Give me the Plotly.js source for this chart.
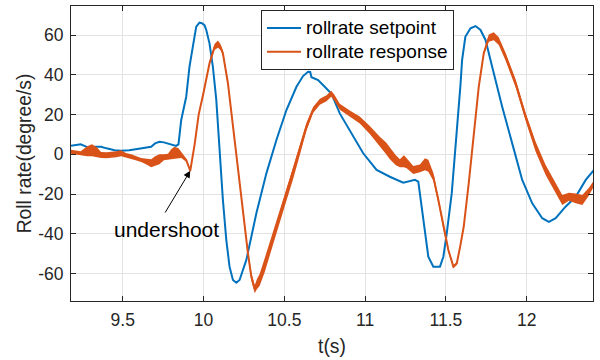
<!DOCTYPE html>
<html>
<head>
<meta charset="utf-8">
<script src="https://cdn.plot.ly/plotly-3.0.1.min.js"></script>
<style>html,body{margin:0;padding:0;background:#fff;}#chart{width:600px;height:360px;}</style>
</head>
<body>
<div id="chart"></div>
<script>
// ---- data ----
const tSet = [9.18,9.20,9.24,9.27,9.30,9.33,9.366,9.40,9.45,9.49,9.54,9.59,9.64,9.676,9.70,9.727,9.755,9.78,9.83,9.845,9.852,9.862,9.893,9.913,9.934,9.955,9.975,9.99,10.006,10.017,10.037,10.058,10.079,10.099,10.12,10.141,10.161,10.182,10.203,10.223,10.265,10.327,10.389,10.451,10.513,10.575,10.616,10.647,10.66,10.668,10.709,10.75,10.792,10.843,10.926,10.988,11.071,11.153,11.236,11.308,11.329,11.35,11.37,11.391,11.422,11.463,11.484,11.505,11.536,11.567,11.59,11.60,11.62,11.652,11.683,11.714,11.745,11.786,11.848,11.91,11.972,12.034,12.096,12.137,12.179,12.24,12.303,12.365,12.416];
const setpoint = [4.3,4.5,5.0,4.0,3.0,3.8,3.8,3.0,2.0,1.8,2.0,2.7,3.2,3.8,5.5,6.3,6.0,5.5,4.2,5.0,10,17.3,29,44,54.2,64.3,66.3,66.0,65.1,62.6,55.9,44.1,27.4,2.2,-23,-43.2,-56.6,-63.3,-64.7,-63.3,-53.2,-29.7,-9.6,7.2,22.3,34,39.4,41.6,41.5,38.8,37.4,34,30.5,20.6,8.9,0.5,-7.9,-11.3,-14.3,-12.9,-13.8,-26.4,-39.8,-51.6,-56.6,-56.6,-51.6,-39.8,-19.6,10.6,35,47.5,59.2,63.5,64.6,62.6,57.6,44.1,24,5.5,-12.9,-24.7,-32.2,-34,-32.2,-26.4,-21.4,-12.9,-7.9];

const tResp = [9.18,9.24,9.28,9.31,9.34,9.366,9.40,9.428,9.46,9.49,9.52,9.552,9.58,9.614,9.65,9.676,9.70,9.727,9.755,9.78,9.80,9.82,9.845,9.862,9.893,9.918,9.945,9.97,10.0,10.037,10.068,10.089,10.105,10.12,10.151,10.182,10.213,10.244,10.275,10.296,10.317,10.33,10.347,10.378,10.41,10.451,10.503,10.554,10.596,10.637,10.678,10.72,10.761,10.79,10.81,10.843,10.905,10.967,11.029,11.091,11.13,11.153,11.19,11.215,11.24,11.257,11.298,11.339,11.37,11.391,11.422,11.453,11.484,11.515,11.546,11.567,11.588,11.61,11.641,11.672,11.703,11.734,11.765,11.796,11.827,11.869,11.931,11.993,12.055,12.117,12.179,12.22,12.261,12.303,12.344,12.385,12.416];
const response = [1.3,0.5,1.5,2.0,1.0,-0.4,-0.5,-0.4,0.0,0.5,-0.5,-1.2,-2.0,-2.9,-3.8,-4.5,-3.5,-2.5,-1.5,-1.2,0,0.8,0.5,-0.4,-2.9,-8.3,5,20,31,45.8,54,55.5,54,50.9,35.8,13.9,-7.9,-29.7,-49.9,-61.7,-68.0,-65.5,-63.3,-56,-47.4,-36.5,-23,-9.6,2.2,13.9,22.3,26.5,28.2,30.5,28.5,24,20.6,17.3,12.2,6.3,3.0,0.5,-3.0,-4.5,-3.5,-4.5,-7.9,-7.1,-5.0,-5.8,-11.3,-23,-36.5,-48.2,-56.6,-55,-46.5,-36.5,-14.6,10.6,34,50.9,58.5,59.5,57,49.2,35.8,18.9,3.8,-7.9,-17.1,-23,-21.4,-22.2,-23,-18.8,-14.6];
// half-width of the high-frequency jitter seen on the response trace (degree/s)
const respJitter = [1.0,1.0,2.5,3.0,2.5,1.5,1.5,1.5,1.5,1.5,1.2,1.2,1.0,1.0,1.5,2.0,2.5,2.5,1.5,1.5,2.5,3.0,2.5,1.5,0.8,0.5,0.5,0.5,0.5,0.8,1.5,1.8,1.5,1.2,1.0,0.8,0.8,1.0,1.5,2.0,2.0,2.5,3.0,3.5,3.5,3.5,3.0,3.0,2.5,2.0,1.5,1.5,1.5,1.5,1.5,1.5,1.5,1.8,2.0,2.5,3.0,3.0,2.5,2.0,3.0,2.5,2.0,2.0,3.0,3.0,2.0,1.5,1.5,1.0,0.8,0.8,0.5,0.5,0.5,0.5,0.8,1.0,1.8,2.0,2.0,2.0,2.0,2.0,2.5,2.5,2.5,2.5,2.0,2.5,2.5,2.0,1.5];

const seriesNames = ['rollrate setpoint','rollrate response'];
const xTickVals = [9.5,10,10.5,11,11.5,12];
const xTickText = ['9.5','10','10.5','11','11.5','12'];
const yTickVals = [-60,-40,-20,0,20,40,60];
const yTickText = ['-60','-40','-20','0','20','40','60'];
const noteText = 'undershoot';
const noteAt = [9.77,-38];        // label centre
const arrowTip = [9.918,-8.3];    // undershoot point
const arrowTail = [9.757,-30.1];

// ---- drawing ----
const BLUE = '#0072BD', ORANGE = '#D95319', INK = '#262626';
const FONT = 'Liberation Sans, Arial, Helvetica, sans-serif';
const legendLabel = s => '<span style="font-size:19px">' + s + '</span>';

const bandX = tResp.concat(tResp.slice().reverse());
const bandY = response.map((v,i)=>v+respJitter[i])
  .concat(response.map((v,i)=>v-respJitter[i]).reverse());

const traces = [
  {x:tSet, y:setpoint, type:'scatter', mode:'lines', name:legendLabel(seriesNames[0]),
   line:{color:BLUE, width:2}},
  {x:tResp, y:response, type:'scatter', mode:'lines', name:legendLabel(seriesNames[1]),
   line:{color:ORANGE, width:2}},
  {x:bandX, y:bandY, type:'scatter', mode:'lines', fill:'toself',
   fillcolor:ORANGE, line:{width:0, color:ORANGE}, showlegend:false, hoverinfo:'skip'}
];

const axisCommon = {
  showline:true, linecolor:INK, linewidth:1, mirror:'ticks',
  ticks:'inside', ticklen:5, tickcolor:INK, tickwidth:1,
  showgrid:true, gridcolor:'#e3e3e3', gridwidth:1, zeroline:false,
  tickfont:{family:FONT, size:17.5, color:INK}
};

const layout = {
  width:600, height:360,
  margin:{l:71, r:7, t:6, b:59},
  paper_bgcolor:'#fff', plot_bgcolor:'#fff',
  font:{family:FONT, color:INK},
  xaxis:Object.assign({}, axisCommon, {
    range:[9.18,12.41], tickmode:'array', tickvals:xTickVals, ticktext:xTickText,
    ticklabelstandoff:3,
    title:{text:'t(s)', font:{family:FONT, size:19.3, color:INK}, standoff:10}
  }),
  yaxis:Object.assign({}, axisCommon, {
    range:[-73.9,74.7], tickmode:'array', tickvals:yTickVals, ticktext:yTickText,
    ticklabelstandoff:3,
    title:{text:'Roll rate(degree/s)', font:{family:FONT, size:19.3, color:INK}, standoff:1}
  }),
  legend:{x:0.364, y:0.986, xanchor:'left', yanchor:'top', traceorder:'normal',
    bgcolor:'#fff', bordercolor:INK, borderwidth:1, itemwidth:34,
    font:{family:FONT, size:16, color:'#000'}, tracegroupgap:0},
  showlegend:true,
  annotations:[
    {x:noteAt[0], y:noteAt[1], xref:'x', yref:'y', text:noteText, showarrow:false,
     font:{family:FONT, size:21, color:'#000'}},
    {x:arrowTip[0], y:arrowTip[1], ax:arrowTail[0], ay:arrowTail[1],
     xref:'x', yref:'y', axref:'x', ayref:'y', text:'', showarrow:true,
     arrowhead:2, arrowsize:1.4, arrowwidth:1, arrowcolor:'#000', standoff:0, startstandoff:0}
  ]
};

Plotly.newPlot('chart', traces, layout, {displayModeBar:false, staticPlot:true});
</script>
</body>
</html>
